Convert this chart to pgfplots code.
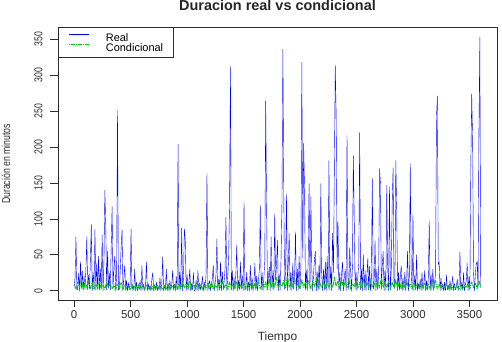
\documentclass[border=0pt]{standalone}
\usepackage{fontspec}
\setmainfont{Liberation Sans}
\usepackage{pgfplots}
\usepackage{pgfplotstable}
\pgfplotsset{compat=1.18}

\definecolor{realblue}{RGB}{0,0,255}
\definecolor{condgreen}{RGB}{0,205,0}
\definecolor{framec}{RGB}{45,45,45}

% Observed duration, one value every 8 time units (t = 0, 8, ..., 3600)
\pgfplotstableread[row sep=\\]{
y\\
5\\ 18\\ 75\\ 1\\ 2\\ 24\\ 0\\ 40\\ 3\\ 28\\
1\\ 20\\ 2\\ 30\\ 75\\ 1\\ 22\\ 2\\ 45\\ 92\\
0\\ 26\\ 3\\ 85\\ 1\\ 38\\ 2\\ 48\\ 1\\ 30\\
2\\ 78\\ 0\\ 42\\ 140\\ 89\\ 1\\ 55\\ 3\\ 24\\
1\\ 60\\ 117\\ 2\\ 33\\ 48\\ 0\\ 20\\ 251\\ 1\\
2\\ 28\\ 60\\ 85\\ 0\\ 18\\ 35\\ 1\\ 14\\ 0\\
11\\ 1\\ 9\\ 86\\ 0\\ 7\\ 1\\ 30\\ 0\\ 12\\
0\\ 8\\ 1\\ 14\\ 0\\ 35\\ 1\\ 9\\ 0\\ 6\\
40\\ 0\\ 10\\ 1\\ 7\\ 0\\ 16\\ 25\\ 0\\ 8\\
1\\ 12\\ 0\\ 6\\ 1\\ 18\\ 0\\ 9\\ 47\\ 0\\
7\\ 1\\ 30\\ 0\\ 10\\ 0\\ 14\\ 1\\ 8\\ 28\\
1\\ 9\\ 0\\ 20\\ 1\\ 204\\ 0\\ 26\\ 1\\ 87\\
0\\ 18\\ 86\\ 70\\ 0\\ 22\\ 1\\ 12\\ 30\\ 0\\
10\\ 1\\ 25\\ 0\\ 1\\ 15\\ 0\\ 28\\ 0\\ 11\\
1\\ 8\\ 20\\ 0\\ 12\\ 1\\ 24\\ 163\\ 0\\ 9\\
14\\ 0\\ 7\\ 18\\ 35\\ 0\\ 10\\ 22\\ 72\\ 0\\
16\\ 1\\ 40\\ 0\\ 26\\ 1\\ 12\\ 30\\ 102\\ 0\\
20\\ 45\\ 122\\ 313\\ 1\\ 28\\ 0\\ 18\\ 2\\ 24\\
64\\ 0\\ 15\\ 1\\ 40\\ 2\\ 22\\ 0\\ 124\\ 1\\
3\\ 26\\ 0\\ 12\\ 0\\ 35\\ 1\\ 18\\ 0\\ 10\\
38\\ 1\\ 20\\ 0\\ 14\\ 30\\ 119\\ 1\\ 25\\ 0\\
18\\ 42\\ 264\\ 112\\ 1\\ 20\\ 33\\ 0\\ 75\\ 2\\
28\\ 1\\ 107\\ 15\\ 36\\ 70\\ 0\\ 22\\ 1\\ 45\\
121\\ 336\\ 135\\ 2\\ 30\\ 135\\ 0\\ 40\\ 80\\ 1\\
26\\ 0\\ 38\\ 2\\ 22\\ 82\\ 0\\ 30\\ 1\\ 48\\
2\\ 35\\ 318\\ 45\\ 205\\ 142\\ 1\\ 28\\ 0\\ 40\\
149\\ 1\\ 131\\ 30\\ 0\\ 24\\ 44\\ 55\\ 0\\ 26\\
1\\ 36\\ 2\\ 149\\ 22\\ 0\\ 30\\ 1\\ 40\\ 0\\
48\\ 2\\ 181\\ 1\\ 34\\ 0\\ 80\\ 25\\ 170\\ 314\\
244\\ 30\\ 97\\ 1\\ 26\\ 0\\ 22\\ 40\\ 0\\ 18\\
30\\ 0\\ 216\\ 20\\ 1\\ 60\\ 28\\ 0\\ 35\\ 188\\
100\\ 2\\ 26\\ 0\\ 20\\ 38\\ 220\\ 1\\ 30\\ 0\\
50\\ 1\\ 28\\ 0\\ 22\\ 45\\ 1\\ 34\\ 0\\ 18\\
156\\ 2\\ 8\\ 70\\ 0\\ 30\\ 1\\ 24\\ 170\\ 149\\
2\\ 34\\ 55\\ 0\\ 28\\ 1\\ 147\\ 36\\ 0\\ 145\\
1\\ 30\\ 121\\ 171\\ 2\\ 8\\ 181\\ 112\\ 0\\ 26\\
1\\ 20\\ 35\\ 0\\ 18\\ 1\\ 26\\ 0\\ 14\\ 55\\
0\\ 20\\ 177\\ 30\\ 1\\ 106\\ 0\\ 22\\ 1\\ 50\\
0\\ 10\\ 2\\ 16\\ 0\\ 25\\ 1\\ 9\\ 28\\ 0\\
14\\ 1\\ 18\\ 97\\ 0\\ 22\\ 1\\ 30\\ 0\\ 12\\
24\\ 242\\ 271\\ 36\\ 40\\ 0\\ 18\\ 1\\ 10\\ 0\\
12\\ 0\\ 22\\ 1\\ 8\\ 0\\ 14\\ 1\\ 9\\ 20\\
0\\ 10\\ 1\\ 6\\ 16\\ 0\\ 8\\ 54\\ 0\\ 12\\
1\\ 25\\ 0\\ 9\\ 14\\ 38\\ 0\\ 20\\ 1\\ 172\\
274\\ 212\\ 26\\ 0\\ 22\\ 38\\ 40\\ 2\\ 224\\ 353\\
4\\
}\realdata

% Conditional duration, one value every 16 time units (t = 0, 16, ..., 3600)
\pgfplotstableread[row sep=\\]{
y\\
8\\ 3\\ 12\\ 4\\ 16\\ 2\\ 10\\ 5\\ 14\\ 3\\
11\\ 2\\ 9\\ 4\\ 13\\ 3\\ 8\\ 2\\ 12\\ 4\\
10\\ 3\\ 7\\ 2\\ 9\\ 4\\ 11\\ 2\\ 8\\ 3\\
6\\ 2\\ 9\\ 3\\ 7\\ 2\\ 10\\ 4\\ 6\\ 2\\
8\\ 3\\ 6\\ 2\\ 9\\ 2\\ 7\\ 3\\ 5\\ 2\\
7\\ 3\\ 9\\ 2\\ 6\\ 4\\ 8\\ 2\\ 10\\ 3\\
12\\ 4\\ 9\\ 3\\ 14\\ 2\\ 8\\ 4\\ 11\\ 3\\
9\\ 2\\ 7\\ 4\\ 10\\ 3\\ 12\\ 2\\ 8\\ 4\\
11\\ 3\\ 15\\ 4\\ 9\\ 2\\ 12\\ 5\\ 10\\ 3\\
13\\ 4\\ 8\\ 3\\ 11\\ 2\\ 9\\ 4\\ 12\\ 3\\
10\\ 4\\ 14\\ 3\\ 9\\ 5\\ 12\\ 2\\ 16\\ 4\\
13\\ 5\\ 18\\ 4\\ 11\\ 6\\ 14\\ 3\\ 20\\ 5\\
12\\ 4\\ 16\\ 6\\ 10\\ 3\\ 15\\ 5\\ 11\\ 4\\
14\\ 3\\ 12\\ 6\\ 17\\ 4\\ 10\\ 5\\ 13\\ 3\\
16\\ 5\\ 11\\ 4\\ 19\\ 6\\ 13\\ 3\\ 15\\ 5\\
12\\ 4\\ 17\\ 3\\ 10\\ 6\\ 14\\ 4\\ 11\\ 3\\
15\\ 5\\ 12\\ 3\\ 16\\ 4\\ 10\\ 6\\ 13\\ 4\\
18\\ 5\\ 12\\ 4\\ 14\\ 3\\ 11\\ 5\\ 15\\ 4\\
12\\ 3\\ 10\\ 5\\ 13\\ 4\\ 9\\ 3\\ 11\\ 4\\
10\\ 3\\ 8\\ 4\\ 11\\ 2\\ 9\\ 3\\ 12\\ 4\\
14\\ 3\\ 9\\ 4\\ 8\\ 2\\ 10\\ 3\\ 7\\ 2\\
8\\ 3\\ 6\\ 2\\ 9\\ 3\\ 7\\ 4\\ 10\\ 3\\
12\\ 4\\ 11\\ 3\\ 14\\ 5\\
}\conddata

\begin{document}
\begin{tikzpicture}
\useasboundingbox (0,0) rectangle (502bp,342bp);
\begin{axis}[
  at={(58bp,41.3bp)}, anchor=south west,
  scale only axis, width=439bp, height=273.7bp,
  xmin=-143, xmax=3744, ymin=-14, ymax=367,
  axis line style={draw=framec, line width=0.6bp},
  xtick={0,500,...,3500}, ytick={0,50,...,350},
  tick align=outside, tick pos=left,
  tick style={draw=framec, line width=0.6bp},
  xtick style={/pgfplots/major tick length=6bp},
  ytick style={/pgfplots/major tick length=8bp},
  /pgf/number format/1000 sep={},
  /pgf/number format/assume math mode=true,
  xticklabel style={font=\fontsize{11.5}{12}\selectfont, text=framec, anchor=north, inner sep=0pt},
  xticklabel shift=5bp,
  yticklabel style={font=\fontsize{11.5}{12}\selectfont, text=framec, rotate=90, anchor=south, inner sep=0pt},
  yticklabel shift=11bp,
  yticklabel={\scalebox{0.76}[1]{\pgfmathprintnumber{\tick}}},
  legend style={at={(0,1)}, anchor=north west, draw=framec, line width=0.6bp, fill=white,
    inner xsep=10bp, inner ysep=6bp, row sep=2bp,
    font=\fontsize{11}{11}\selectfont,
    nodes={inner sep=0pt, text height=8bp, text depth=0bp},
    /tikz/every odd column/.append style={column sep=17bp}},
  legend cell align=left,
  legend image code/.code={\draw[#1, line width=0.6bp] (0bp,3bp) -- (20bp,3bp);},
]
\addplot[realblue, line width=0.4bp, line join=round] table[x expr=\coordindex*8, y=y] {\realdata};
\addlegendentry{Real}
\addplot[condgreen, line width=1.1bp, line join=round, dash pattern=on 1bp off 1bp on 4bp off 1bp] table[x expr=\coordindex*16, y=y] {\conddata};
\addlegendentry{Condicional}
\end{axis}
\node[anchor=base, font=\bfseries\fontsize{14.5}{15}\selectfont, text=black!85] at (277.5bp,331.5bp) {Duracion real vs condicional};
\node[anchor=base, font=\fontsize{12}{12}\selectfont, text=framec] at (277.5bp,1.5bp) {Tiempo};
\node[anchor=base, rotate=90, font=\fontsize{11.5}{12}\selectfont, text=framec] at (10bp,178bp) {\scalebox{0.76}[1]{Duración en minutos}};
\end{tikzpicture}
\end{document}
